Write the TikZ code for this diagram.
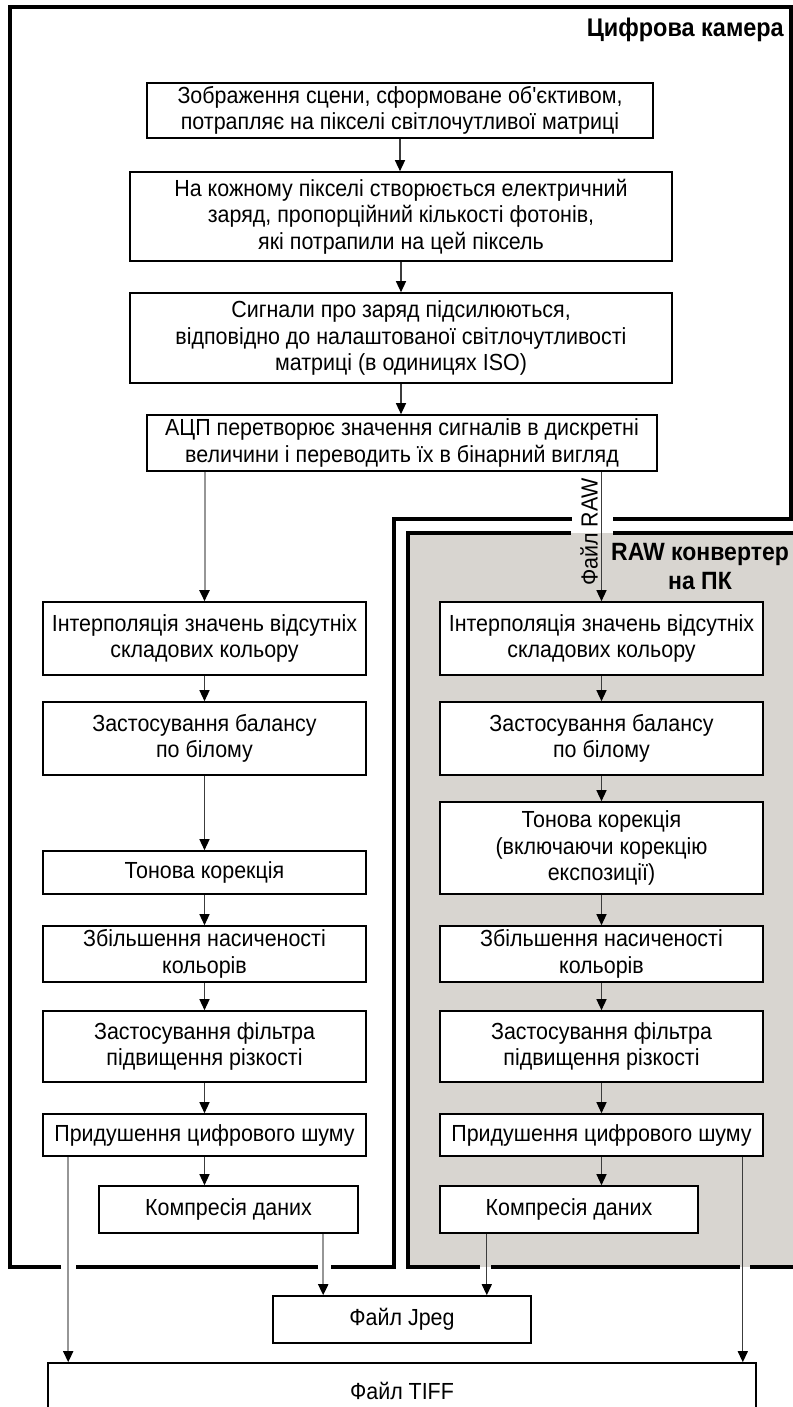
\documentclass[tikz,border=0pt]{standalone}
\usepackage{fontspec}
\setmainfont{Liberation Sans}[FakeStretch=0.92, Ligatures=TeXOff]
\usetikzlibrary{arrows.meta,calc}
\definecolor{panelgray}{RGB}{216,213,208}
\definecolor{linegray}{RGB}{60,60,60}
\definecolor{lightline}{RGB}{150,150,150}
\newcommand\diagfont{\fontsize{23.3}{26.5}\selectfont}
\newcommand\titlesize{\fontsize{25.5}{28}\selectfont}
\begin{document}
\begin{tikzpicture}[x=1pt,y=-1pt,
  box/.style={draw=black, line width=1.6pt, fill=white, align=center, inner sep=0pt, font=\diagfont},
  frame/.style={line width=4pt, draw=black},
  arr/.style={draw=linegray, line width=1.3pt, -{Triangle[width=10pt,length=11pt,color=black]}},
  arrlight/.style={arr, draw=lightline, line width=2pt},
  lbl/.style={font=\diagfont, inner sep=0pt},
  ttl/.style={font=\titlesize\bfseries, inner sep=0pt}]
\useasboundingbox (0,0) rectangle (792,1407);
% gray RAW-converter panel
\fill[panelgray] (408,533) rectangle (800,1267);
% camera frame
\draw[frame] (61,1267) -- (10,1267) -- (10,7) -- (791,7) -- (791,519) -- (613,519);
\draw[frame] (572,519) -- (394,519) -- (394,1267) -- (331,1267);
\draw[frame] (318,1267) -- (76,1267);
% panel frame
\draw[frame] (571,533) -- (408,533) -- (408,1267) -- (480,1267);
\draw[frame] (613,533) -- (800,533);
\draw[frame] (491,1267) -- (740,1267);
\draw[frame] (750,1267) -- (800,1267);
% titles
\node[ttl, anchor=base east] (title) at (784,37) {Цифрова камера};
\node[ttl, anchor=base, font=\fontsize{25}{28}\selectfont\bfseries] (raw1) at (700,560) {RAW конвертер};
\node[ttl, anchor=base, font=\fontsize{25}{28}\selectfont\bfseries] (raw2) at (700,589) {на ПК};
% top chain
\node[box, minimum width=506, minimum height=55] (B1) at (400,110.5) {Зображення сцени, сформоване об'єктивом,\\потрапляє на пікселі світлочутливої матриці};
\node[box, minimum width=542, minimum height=89] (B2) at (401,216.5) {На кожному пікселі створюється електричний\\заряд, пропорційний кількості фотонів,\\які потрапили на цей піксель};
\node[box, minimum width=542, minimum height=90] (B3) at (401,338) {Сигнали про заряд підсилюються,\\відповідно до налаштованої світлочутливості\\матриці (в одиницях ISO)};
\node[box, minimum width=510, minimum height=56] (B4) at (402,443) {АЦП перетворює значення сигналів в дискретні\\величини і переводить їх в бінарний вигляд};
% left column
\node[box, minimum width=323, minimum height=73] (L1) at (204.5,638.5) {Інтерполяція значень відсутніх\\складових кольору};
\node[box, minimum width=323, minimum height=73] (L2) at (204.5,738.5) {Застосування балансу\\по білому};
\node[box, minimum width=323, minimum height=43] (L3) at (204.5,872.5) {Тонова корекція};
\node[box, minimum width=323, minimum height=56] (L4) at (204.5,954) {Збільшення насиченості\\кольорів};
\node[box, minimum width=323, minimum height=71] (L5) at (204.5,1046.5) {Застосування фільтра\\підвищення різкості};
\node[box, minimum width=323, minimum height=42] (L6) at (204.5,1135) {Придушення цифрового шуму};
\node[box, minimum width=259, minimum height=47] (L7) at (228.5,1209.5) {Компресія даних};
% right column
\node[box, minimum width=323, minimum height=73] (R1) at (601.5,638.5) {Інтерполяція значень відсутніх\\складових кольору};
\node[box, minimum width=323, minimum height=73] (R2) at (601.5,738.5) {Застосування балансу\\по білому};
\node[box, minimum width=323, minimum height=92] (R3) at (601.5,848) {Тонова корекція\\(включаючи корекцію\\експозиції)};
\node[box, minimum width=323, minimum height=56] (R4) at (601.5,954) {Збільшення насиченості\\кольорів};
\node[box, minimum width=323, minimum height=71] (R5) at (601.5,1046.5) {Застосування фільтра\\підвищення різкості};
\node[box, minimum width=323, minimum height=42] (R6) at (601.5,1135) {Придушення цифрового шуму};
\node[box, minimum width=258, minimum height=47] (R7) at (569,1209.5) {Компресія даних};
% outputs
\node[box, minimum width=258, minimum height=47] (J) at (402,1319.5) {Файл Jpeg};
\node[box, minimum width=708, minimum height=56] (T) at (402,1391) {Файл TIFF};
% RAW file label
\node[lbl, rotate=90] (rawlbl) at (589,532) {Файл RAW};
% connectors
\draw[arr] (B1.south) -- (B1.south |- B2.north);
\draw[arr] (B2.south) -- (B2.south |- B3.north);
\draw[arr] (B3.south) -- (B3.south |- B4.north);
\draw[arrlight] (L1.north |- B4.south) -- (L1.north);
\draw[arr] (R1.north |- B4.south) -- (R1.north);
\draw[arr] (L1) -- (L2);
\draw[arr] (L2) -- (L3);
\draw[arr] (L3) -- (L4);
\draw[arr] (L4) -- (L5);
\draw[arr] (L5) -- (L6);
\draw[arr] (L6.south) -- (L6.south |- L7.north);
\draw[arr] (R1) -- (R2);
\draw[arr] (R2) -- (R3);
\draw[arr] (R3) -- (R4);
\draw[arr] (R4) -- (R5);
\draw[arr] (R5) -- (R6);
\draw[arr] (R6.south) -- (R6.south |- R7.north);
\draw[arrlight] ([xshift=51]J.north west |- L7.south) -- ([xshift=51]J.north west);
\draw[arr] ([xshift=-45]J.north east |- R7.south) -- ([xshift=-45]J.north east);
\draw[arrlight, line width=1.5pt] ([xshift=26]L6.south west) -- ([xshift=26]L6.south west |- T.north);
\draw[arr] ([xshift=-21]R6.south east) -- ([xshift=-21]R6.south east |- T.north);
\end{tikzpicture}
\end{document}
